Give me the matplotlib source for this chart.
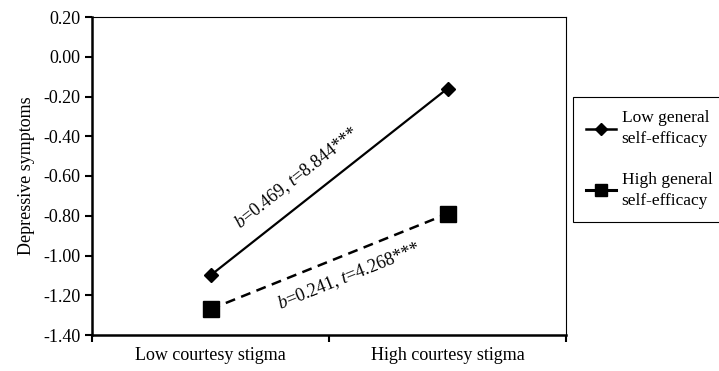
import numpy as np
import matplotlib
matplotlib.use('Agg')
from matplotlib import pyplot as plt
from matplotlib.lines import Line2D

# data
categories = ['Low courtesy stigma', 'High courtesy stigma']
low_se = [-1.10, -0.16]
high_se = [-1.27, -0.79]
series_names = ['Low general\nself-efficacy', 'High general\nself-efficacy']
notes = ['$b$=0.469, $t$=8.844***', '$b$=0.241, $t$=4.268***']
note_pos = [(0.865, -0.61), (1.084, -1.103)]
yticks = np.round(np.arange(-1.4, 0.21, 0.2), 2)

plt.rcParams['font.family'] = ['Liberation Serif', 'DejaVu Serif']
plt.rcParams['mathtext.fontset'] = 'custom'
plt.rcParams['mathtext.it'] = 'Liberation Serif:italic'
plt.rcParams['mathtext.rm'] = 'Liberation Serif'

fig = plt.figure(figsize=(7.19, 3.71), dpi=100)
ax = fig.add_axes([92/719, 36/371, 474/719, 318/371])

x = np.array([0.5, 1.5])
ax.plot(x, low_se, color='black', lw=1.6, marker='D', ms=7.5)
ax.plot(x, high_se, color='black', lw=1.8, ls=(0, (4, 2.6)), marker='s', ms=11.5)

# slope annotations, rotated along each line
for ys, txt, pos in zip([low_se, high_se], notes, note_pos):
    ang = np.degrees(np.arctan2(ys[1] - ys[0], x[1] - x[0]))
    ax.text(pos[0], pos[1], txt, rotation=ang, transform_rotates_text=True,
            rotation_mode='anchor', ha='center', va='center', fontsize=13)

ax.set_xlim(0, 2)
ax.set_ylim(-1.4, 0.2)
ax.set_yticks(yticks)
ax.set_yticklabels(['%.2f' % (v + 0.0) for v in yticks])
ax.set_xticks([0, 1, 2])
ax.set_xticklabels([])
ax.set_xticks(x, minor=True)
ax.set_xticklabels(categories, minor=True)
ax.tick_params(which='major', direction='out', length=5, width=1.5, labelsize=13)
ax.tick_params(axis='x', which='minor', length=0, pad=9, labelsize=13)
ax.set_ylabel('Depressive symptoms', fontsize=13, labelpad=6)

for s in ['left', 'bottom']:
    ax.spines[s].set_linewidth(1.8)
for s in ['top', 'right']:
    ax.spines[s].set_linewidth(0.8)

# legend handles drawn solid, as in the reference
h1 = Line2D([], [], color='black', lw=1.8, marker='D', ms=6)
h2 = Line2D([], [], color='black', lw=2.2, marker='s', ms=8.5)
leg = fig.legend([h1, h2], series_names, loc='upper left',
                 bbox_to_anchor=(573/719, 1 - 97/371), fontsize=12.5,
                 handlelength=1.7, handletextpad=0.35, labelspacing=1.4,
                 borderpad=0.75, borderaxespad=0, fancybox=False,
                 edgecolor='black', framealpha=1)
for t in leg.get_texts():
    t.set_linespacing(1.45)
leg.get_frame().set_linewidth(0.8)

fig.savefig('out.png', dpi=100)
